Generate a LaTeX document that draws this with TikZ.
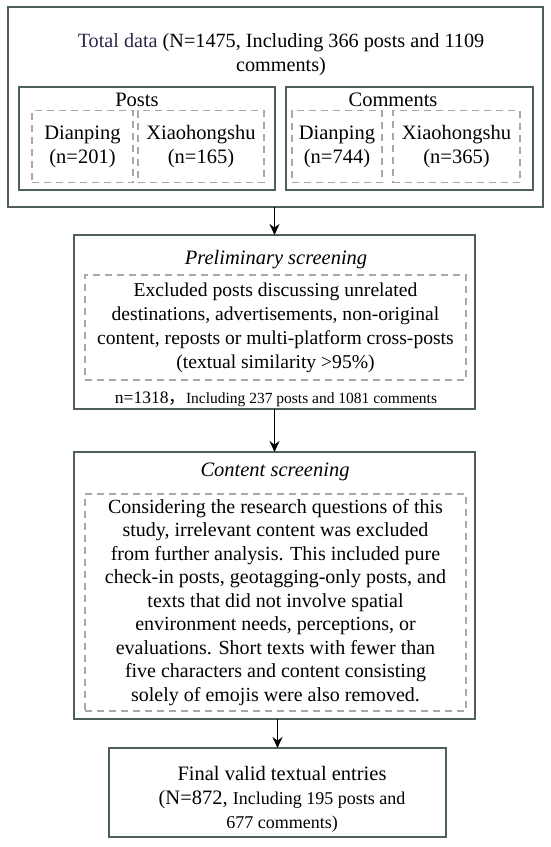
\documentclass[tikz,border=0pt]{standalone}
\usepackage{fontspec}
\setmainfont{Liberation Serif}
\newfontfamily\cjk{Noto Sans CJK SC}
\usetikzlibrary{arrows.meta}
\definecolor{boxc}{HTML}{4F5F5F}
\definecolor{dashc}{HTML}{A8A8A8}
\definecolor{navyc}{HTML}{2A2A4A}
\begin{document}
\begin{tikzpicture}[x=1pt,y=-1pt,
  frame/.style={draw=boxc, line width=1.8pt, inner sep=0pt, outer sep=0pt},
  dbox/.style={draw=dashc, line width=1.3pt, dash pattern=on 7pt off 5pt, inner sep=0pt, outer sep=0pt, align=center, font=\fontsize{20.5}{24}\selectfont},
  txt/.style={font=\fontsize{20.5}{24}\selectfont, align=center, inner sep=0pt},
  arr/.style={-{Stealth[length=11pt,width=10pt]}, line width=1.5pt, black}
]
\fill[white] (0,0) rectangle (550,847);
\useasboundingbox (0,0) rectangle (550,847);

% stage 1
\node[frame, minimum width=535pt, minimum height=200pt] (total) at (275.5,107) {};
\node[txt, font=\fontsize{20.2}{24}\selectfont] (title) at (281,55) {{\color{navyc}Total data} (N=1475, Including 366 posts and 1109\\comments)};
\node[frame, minimum width=256pt, minimum height=103pt] (posts) at (147,138.5) {};
\node[frame, minimum width=247pt, minimum height=103pt] (comm) at (409.5,138.5) {};
\node[txt] (postsl) at (137,100) {Posts};
\node[txt] (comml) at (393,100) {Comments};
\node[dbox, minimum width=101pt, minimum height=72pt] (pd) at (82.5,146.5) {Dianping\\(n=201)};
\node[dbox, minimum width=126pt, minimum height=72pt] (px) at (201,146.5) {Xiaohongshu\\(n=165)};
\node[dbox, minimum width=90pt, minimum height=72pt] (cd) at (337,146.5) {Dianping\\(n=744)};
\node[dbox, minimum width=127pt, minimum height=72pt] (cx) at (456.5,146.5) {Xiaohongshu\\(n=365)};

% stage 2
\node[frame, minimum width=401pt, minimum height=174pt] (prelim) at (274.5,322) {};
\node[txt, font=\fontsize{20.5}{24}\selectfont\itshape] (prelimt) at (276,260) {Preliminary screening};
\node[dbox, minimum width=381pt, minimum height=105pt, font=\fontsize{19.6}{24}\selectfont] (prelimd) at (275.5,327.5) {Excluded posts discussing unrelated\\destinations, advertisements, non-original\\content, reposts or multi-platform cross-posts\\(textual similarity >95\%)};
\node[txt] (prelimn) at (276,399) {\fontsize{17.5}{20}\selectfont n=1318{\cjk ，}\fontsize{15.5}{20}\selectfont Including 237 posts and 1081 comments};

% stage 3
\node[frame, minimum width=401pt, minimum height=267pt] (content) at (274.5,585.5) {};
\node[txt, font=\fontsize{20.5}{24}\selectfont\itshape] (contentt) at (275,472) {Content screening};
\node[dbox, minimum width=381pt, minimum height=217pt, font=\fontsize{20}{23.5}\selectfont] (contentd) at (275.5,602.5) {Considering the research questions of this\\study, irrelevant content was excluded\\from further analysis. This included pure\\check-in posts, geotagging-only posts, and\\texts that did not involve spatial\\environment needs, perceptions, or\\evaluations. Short texts with fewer than\\five characters and content consisting\\solely of emojis were also removed.};

% stage 4
\node[frame, minimum width=337pt, minimum height=89pt] (final) at (277.5,792.5) {};
\node[txt] (finalt) at (282,799) {Final valid textual entries\\(N=872, {\fontsize{18}{24}\selectfont Including 195 posts and}\\{\fontsize{18}{22}\selectfont 677 comments)}};

% arrows
\draw[arr] (total.south -| prelim.north) -- (prelim.north);
\draw[arr] (prelim.south) -- (content.north);
\draw[arr] (content.south -| final.north) -- (final.north);
\end{tikzpicture}
\end{document}
